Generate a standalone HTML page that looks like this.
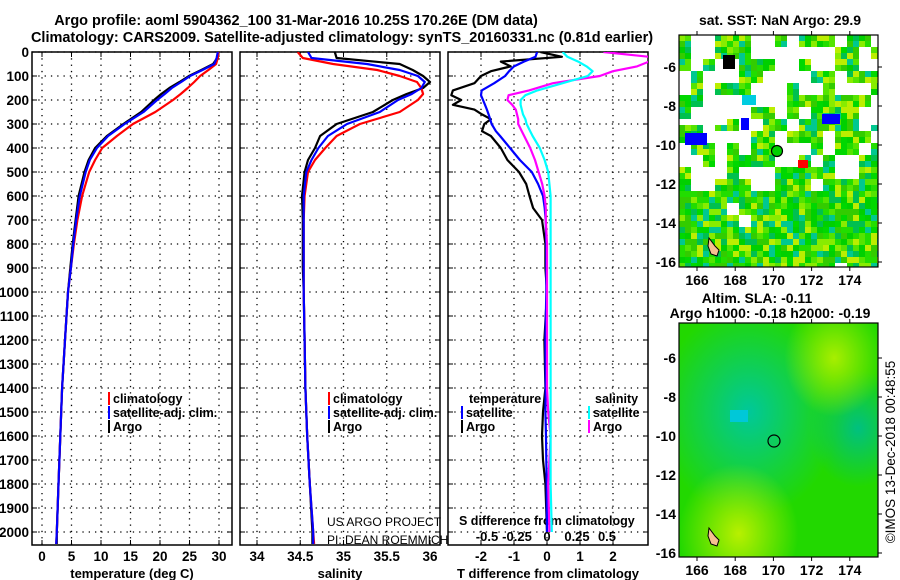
<!DOCTYPE html>
<html><head><meta charset="utf-8"><style>
html,body{margin:0;padding:0;background:#fff;}
svg{display:block;font-family:"Liberation Sans",sans-serif;}
.b{font-weight:bold;font-size:14.5px;}
.m{font-weight:bold;font-size:14px;}
.t{font-weight:bold;font-size:12.5px;}
.k{font-weight:bold;font-size:13.5px;}
.a{font-weight:bold;font-size:13px;}
</style></head><body>
<svg id="c" width="900" height="580" viewBox="0 0 900 580" xmlns="http://www.w3.org/2000/svg">
<defs>
<clipPath id="cp1"><rect x="32" y="52" width="200" height="493"/></clipPath>
<clipPath id="cp2"><rect x="240" y="52" width="200" height="493"/></clipPath>
<clipPath id="cp3"><rect x="448" y="52" width="200" height="493"/></clipPath>
<clipPath id="cm1"><rect x="679" y="35" width="199" height="232"/></clipPath>
<clipPath id="cm2"><rect x="679" y="323" width="199" height="234"/></clipPath>
<radialGradient id="g1" cx="0.35" cy="0.38" r="0.45"><stop offset="0" stop-color="#00c89a"/><stop offset="1" stop-color="#00c89a" stop-opacity="0"/></radialGradient>
<radialGradient id="g2" cx="0.3" cy="0.9" r="0.3"><stop offset="0" stop-color="#b8f000"/><stop offset="1" stop-color="#b8f000" stop-opacity="0"/></radialGradient>
<radialGradient id="g3" cx="0.78" cy="0.15" r="0.25"><stop offset="0" stop-color="#a8ee00"/><stop offset="1" stop-color="#a8ee00" stop-opacity="0"/></radialGradient>
<radialGradient id="g4" cx="0.9" cy="0.45" r="0.25"><stop offset="0" stop-color="#00c080"/><stop offset="1" stop-color="#00c080" stop-opacity="0"/></radialGradient>
</defs>
<text class="b" x="296" y="25" text-anchor="middle">Argo profile: aoml 5904362_100 31-Mar-2016 10.25S 170.26E (DM data)</text>
<text class="b" x="342" y="42" text-anchor="middle">Climatology: CARS2009. Satellite-adjusted climatology: synTS_20160331.nc (0.81d earlier)</text>
<g id="axes"></g>
<g id="marks"></g>
<g id="maps"></g>
</svg>
<script>
const depths=[0,25,50,75,100,125,150,175,200,250,300,350,400,450,500,600,700,800,900,1000,1200,1400,1600,1800,2000,2050];
const tempClim=[29.9,29.8,29.5,28.2,26.8,25.8,24.7,23.5,22.2,19.2,15.4,12.7,10.2,9.0,8.0,6.8,6.0,5.4,4.9,4.4,3.9,3.4,3.1,2.8,2.5,2.4];
const tempSat=[29.8,29.6,29.2,27.2,25.1,23.6,22.0,20.8,19.5,17.2,14.0,11.2,9.3,8.1,7.4,6.4,5.8,5.3,4.9,4.4,3.9,3.4,3.1,2.8,2.5,2.4];
const tempArgo=[29.9,29.7,29.0,27.0,24.9,23.3,21.6,20.2,19.0,16.8,13.8,11.0,9.0,7.9,7.2,6.2,5.7,5.2,4.8,4.4,3.9,3.4,3.1,2.8,2.5,2.5];
const salClim=[34.47,34.53,34.88,35.39,35.65,35.85,35.90,35.92,35.86,35.65,35.19,34.92,34.79,34.67,34.59,34.55,34.54,34.54,34.54,34.54,34.55,34.56,34.58,34.61,34.65,34.66];
const salSat=[34.59,34.63,35.27,35.65,35.86,35.94,35.90,35.79,35.63,35.42,35.04,34.82,34.71,34.63,34.57,34.54,34.54,34.54,34.54,34.54,34.55,34.56,34.58,34.61,34.65,34.65];
const salArgo=[34.90,34.92,35.65,35.80,35.92,36.00,35.92,35.73,35.57,35.34,34.92,34.73,34.67,34.59,34.55,34.52,34.53,34.53,34.53,34.54,34.55,34.56,34.58,34.61,34.64,34.64];
const diffDepths=[0,20,40,60,80,100,130,160,180,200,220,240,260,280,300,330,350,400,450,500,550,600,650,700,800,900,1000,1200,1400,1500,1600,1700,1800,2000];
const tDiffSat=[-0.3,-0.35,-0.7,-1.0,-1.15,-1.27,-1.6,-1.98,-2.0,-1.94,-1.88,-1.82,-1.77,-1.72,-1.68,-1.55,-1.42,-1.12,-0.82,-0.46,-0.27,-0.12,-0.07,-0.04,-0.02,-0.02,-0.02,-0.05,-0.04,-0.05,-0.03,-0.02,-0.01,0.0];
const tDiffArgo=[-0.2,0.45,-1.4,-1.1,-1.7,-2.0,-2.2,-2.85,-2.9,-2.6,-2.85,-2.2,-1.97,-1.7,-1.9,-1.97,-1.7,-1.4,-1.2,-0.85,-0.63,-0.53,-0.42,-0.15,-0.05,-0.05,0,-0.08,-0.05,-0.12,-0.15,-0.12,-0.05,0.0];
const sDiffSat=[0.13,0.17,0.26,0.33,0.38,0.34,0.13,-0.08,-0.18,-0.22,-0.22,-0.21,-0.2,-0.18,-0.17,-0.14,-0.12,-0.06,-0.02,0.01,0.02,0.03,0.03,0.03,0.03,0.03,0.03,0.03,0.03,0.03,0.03,0.03,0.03,0.04];
const sDiffArgo=[0.47,0.85,0.85,0.75,0.55,0.44,0.05,-0.15,-0.32,-0.33,-0.29,-0.26,-0.25,-0.24,-0.24,-0.21,-0.19,-0.14,-0.1,-0.07,-0.04,-0.02,-0.01,-0.01,0,0,0,0,0,0.01,0.03,0.02,0.01,0.02];
const depthTicks=[0,100,200,300,400,500,600,700,800,900,1000,1100,1200,1300,1400,1500,1600,1700,1800,1900,2000];
const tempTicks=[0,5,10,15,20,25,30];
const salTicks=[34,34.5,35,35.5,36];
const tdTicks=[-2,-1,0,1,2];
const sdTicks=[-0.5,-0.25,0,0.25,0.5];
const sdLabels=['-0.5','-0.25','0','0.25','0.5'];
const lonTicks=[166,168,170,172,174];
const latTicks=[-6,-8,-10,-12,-14,-16];

const NS='http://www.w3.org/2000/svg';
function mk(tag,attrs,parent,txt){const e=document.createElementNS(NS,tag);for(const k in attrs)e.setAttribute(k,attrs[k]);if(txt!==undefined)e.textContent=txt;parent.appendChild(e);return e;}
const axes=document.getElementById('axes'),marks=document.getElementById('marks'),maps=document.getElementById('maps');
const yD=d=>52+d*0.24;
const xT=v=>42+v*5.9;
const xS=v=>257+(v-34)*86.5;
const xTD=v=>547+v*33;
const xSD=v=>547+v*120;
const panels=[{x:32,scale:xT,ticks:tempTicks,title:'temperature (deg C)',name:'temperature'},{x:240,scale:xS,ticks:salTicks,title:'salinity',name:'salinity'},{x:448,scale:xTD,ticks:tdTicks,title:'T difference from climatology',name:'difference'}];
panels.forEach(p=>{
  const g=mk('g',{},axes);
  
  
  depthTicks.forEach(d=>{const y=yD(d);const l=mk('line',{x1:p.x,x2:p.x+200,y1:y,y2:y,stroke:'#000','stroke-width':1.3,'stroke-dasharray':'1.3 5'},g);
    
    mk('line',{x1:p.x,x2:p.x+5,y1:y,y2:y,stroke:'#000'},g);mk('line',{x1:p.x+195,x2:p.x+200,y1:y,y2:y,stroke:'#000'},g);});
  p.ticks.forEach(v=>{const x=p.scale(v);const l=mk('line',{x1:x,x2:x,y1:52,y2:545,stroke:'#000','stroke-width':1.3,'stroke-dasharray':'1.3 5'},g);
    
    mk('line',{x1:x,x2:x,y1:540,y2:545,stroke:'#000'},g);mk('line',{x1:x,x2:x,y1:52,y2:57,stroke:'#000'},g);
    const t=mk('text',{x:x,y:561,'text-anchor':'middle',class:'k'},g,String(v));
    });
  mk('rect',{x:p.x,y:52,width:200,height:493,fill:'none',stroke:'#000','stroke-width':1.5},g);
  const tt=mk('text',{x:p.x+100,y:578,'text-anchor':'middle',class:'a'},g,p.title);
  
});
depthTicks.forEach(d=>{const t=mk('text',{x:29,y:yD(d)+5,'text-anchor':'end',class:'k'},axes,String(d));
  });
sdTicks.forEach((v,i)=>{const t=mk('text',{x:xSD(v),y:541,'text-anchor':'middle',class:'a'},axes,sdLabels[i]);
  });
function line(xs,ds,sx,color,clip,name){const pts=xs.map((v,i)=>sx(v).toFixed(1)+','+yD(ds[i]).toFixed(1)).join(' ');
  const e=mk('polyline',{points:pts,fill:'none',stroke:color,'stroke-width':2.2,'clip-path':'url(#'+clip+')','stroke-linejoin':'round'},marks);
  }
line(tempArgo,depths,xT,'#000','cp1','temp-argo-line');
line(tempClim,depths,xT,'#f00','cp1','temp-climatology-line');
line(tempSat,depths,xT,'#00f','cp1','temp-satellite-line');
line(salArgo,depths,xS,'#000','cp2','salinity-argo-line');
line(salClim,depths,xS,'#f00','cp2','salinity-climatology-line');
line(salSat,depths,xS,'#00f','cp2','salinity-satellite-line');
line(tDiffArgo,diffDepths,xTD,'#000','cp3','t-diff-argo-line');
line(tDiffSat,diffDepths,xTD,'#00f','cp3','t-diff-satellite-line');
line(sDiffArgo,diffDepths,xSD,'#f0f','cp3','s-diff-argo-line');
line(sDiffSat,diffDepths,xSD,'#0ff','cp3','s-diff-satellite-line');
function leg(x,y,c,txt,name){const g=mk('g',{},axes);
  if(c)mk('rect',{x:x,y:y-11,width:2,height:13,fill:c},g);mk('text',{x:x+5,y:y,class:'t'},g,txt);}
leg(108,403,'#f00','climatology','legend-climatology');
leg(108,417,'#00f','satellite-adj. clim.','legend-satellite');
leg(108,431,'#000','Argo','legend-argo');
leg(328,403,'#f00','climatology','legend-climatology');
leg(328,417,'#00f','satellite-adj. clim.','legend-satellite');
leg(328,431,'#000','Argo','legend-argo');
leg(464,403,null,'temperature','legend-temperature-header');
leg(461,417,'#00f','satellite','legend-t-satellite');
leg(461,431,'#000','Argo','legend-t-argo');
leg(590,403,null,'salinity','legend-salinity-header');
leg(588,417,'#0ff','satellite','legend-s-satellite');
leg(588,431,'#f0f','Argo','legend-s-argo');
{const t=mk('text',{x:327,y:526,'font-size':12},axes,'US ARGO PROJECT');
const t2=mk('text',{x:327,y:544,'font-size':12},axes,'PI: DEAN ROEMMICH');
const t3=mk('text',{x:459,y:525,class:'t'},axes,'S difference from climatology');}

// maps
const mlon=v=>697+(v-166)*19.1;
const mlat1=v=>67+(-6-v)*19.5;
const mlat2=v=>358+(-6-v)*19.5;
function hash(i,j,s){let h=(i*374761393+j*668265263+s*982451653)|0;h=(h^(h>>>13))*1274126177|0;return ((h^(h>>>16))>>>0)/4294967296;}
const pal=['#00d000','#22dd00','#55e400','#88ec00','#00c050','#00c890','#bbee00','#00d800','#33cc00'];
const m1=mk('g',{'clip-path':'url(#cm1)'},maps);

mk('rect',{x:679,y:35,width:199,height:232,fill:'#fff'},m1);
for(let i=0;i<34;i++)for(let j=0;j<40;j++){const x=679+i*6,y=35+j*6;const r=hash(i>>1,j>>1,1);
  const holeP=y<190?(y<120?0.6:0.45):0.05;if(r<holeP)continue;
  const c=pal[Math.floor(hash(i,j,2)*pal.length)];mk('rect',{x:x,y:y,width:6,height:6,fill:c},m1);}
mk('rect',{x:685,y:133,width:22,height:12,fill:'#0000ff'},m1);
mk('rect',{x:741,y:118,width:8,height:12,fill:'#0000ff'},m1);
mk('rect',{x:822,y:114,width:18,height:10,fill:'#0000ff'},m1);
mk('rect',{x:723,y:55,width:12,height:14,fill:'#000'},m1);
mk('rect',{x:798,y:160,width:10,height:8,fill:'#f00'},m1);
mk('rect',{x:742,y:95,width:14,height:10,fill:'#00cce0'},m1);
mk('path',{d:'M709 238 l6 8 l4 4 l-2 6 l-6 -2 l-3 -8z',fill:'#f5c090',stroke:'#000'},m1);
mk('circle',{cx:777,cy:151,r:5.5,fill:'#00d000',stroke:'#000','stroke-width':1.2},m1);
const m2=mk('g',{'clip-path':'url(#cm2)'},maps);

mk('rect',{x:679,y:323,width:199,height:234,fill:'#22d800'},m2);
mk('rect',{x:679,y:323,width:199,height:234,fill:'url(#g1)'},m2);
mk('rect',{x:679,y:323,width:199,height:234,fill:'url(#g4)'},m2);
mk('rect',{x:679,y:323,width:199,height:234,fill:'url(#g2)'},m2);
mk('rect',{x:679,y:323,width:199,height:234,fill:'url(#g3)'},m2);
mk('rect',{x:730,y:410,width:18,height:12,fill:'#00c8d8'},m2);
mk('path',{d:'M709 528 l6 8 l4 4 l-2 6 l-6 -2 l-3 -8z',fill:'#f5c090',stroke:'#000'},m2);
mk('circle',{cx:774,cy:441,r:6,fill:'none',stroke:'#000','stroke-width':1.2},m2);
[[35,267,mlat1],[323,557,mlat2]].forEach(([y0,y1,ml],k)=>{
  const g=mk('g',{},maps);
  mk('rect',{x:679,y:y0,width:199,height:y1-y0,fill:'none',stroke:'#000','stroke-width':1.2},g);
  lonTicks.forEach(v=>{const x=mlon(v);mk('line',{x1:x,x2:x,y1:y0-4,y2:y0,stroke:'#000'},g);mk('line',{x1:x,x2:x,y1:y1,y2:y1+4,stroke:'#000'},g);
    const t=mk('text',{x:x,y:y1+18,'text-anchor':'middle',class:'m'},g,String(v));});
  latTicks.forEach(v=>{const y=ml(v);mk('line',{x1:878,x2:882,y1:y,y2:y,stroke:'#000'},g);
    const t=mk('text',{x:676,y:y+5,'text-anchor':'end',class:'m'},g,String(v));});
});
{const a=mk('text',{x:780,y:25,'text-anchor':'middle',class:'m'},maps,'sat. SST: NaN Argo: 29.9');
const b=mk('text',{x:757,y:303,'text-anchor':'middle',class:'m'},maps,'Altim. SLA: -0.11');
const c=mk('text',{x:770,y:318,'text-anchor':'middle',class:'m'},maps,'Argo h1000: -0.18 h2000: -0.19');
const d=mk('text',{x:0,y:0,'font-size':13.5,transform:'translate(895,452) rotate(-90)','text-anchor':'middle'},maps,'©IMOS 13-Dec-2018 00:48:55');}
</script>
</body></html>
